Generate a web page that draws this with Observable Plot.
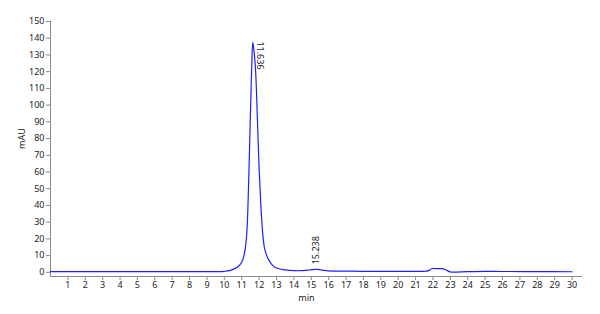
<!DOCTYPE html>
<html>
<head>
<meta charset="utf-8">
<script src="https://cdn.jsdelivr.net/npm/d3@7"></script>
<script src="https://cdn.jsdelivr.net/npm/@observablehq/plot@0.6"></script>
<style>
  html, body { margin: 0; padding: 0; background: #fff; }
  #chart svg { display: block; }
</style>
</head>
<body>
<div id="chart"></div>
<script>
// Retention time (min) and absorbance (mAU)
const times = [0, 2, 5, 8, 9.5, 10, 10.3, 10.6, 10.8, 11.0, 11.1, 11.2, 11.3, 11.4, 11.5, 11.58, 11.636, 11.7, 11.8, 11.9, 12.0, 12.1, 12.2, 12.3, 12.4, 12.5, 12.7, 12.9, 13.2, 13.6, 14.0, 14.5, 14.9, 15.238, 15.6, 16.0, 17, 18, 20, 21.5, 21.75, 21.95, 22.2, 22.5, 22.7, 23.0, 23.2, 24, 25, 26, 28, 30];
const mau   = [0.4, 0.4, 0.4, 0.4, 0.45, 0.6, 1.0, 2.2, 3.5, 6, 9, 14, 25, 55, 95, 125, 137.5, 133, 120, 92, 62, 40, 24, 15, 11, 8.5, 5, 3, 2, 1.3, 1.0, 1.0, 1.4, 1.8, 1.4, 0.9, 0.7, 0.6, 0.6, 0.6, 1.0, 2.3, 2.2, 2.2, 1.7, 0.2, 0.1, 0.4, 0.6, 0.5, 0.4, 0.35];

// Peak annotations
const peakTimes  = [11.636, 15.238];
const peakHeights = [137.5, 1.8];
const peakLabels = ["11.636", "15.238"];

const xTicks = d3.range(1, 31);
const yTicks = d3.range(0, 151, 10);

const trace = times.map((t, i) => ({t, v: mau[i]}));
const peaks = peakTimes.map((t, i) => ({t, v: peakHeights[i], label: peakLabels[i]}));

const axisColor = "#8a8a8a";
const textColor = "#222";

const chart = Plot.plot({
  width: 600,
  height: 314,
  marginLeft: 50,
  marginRight: 18,
  marginTop: 21,
  marginBottom: 38,
  style: {fontFamily: "'Noto Sans', sans-serif", fontSize: "9px", color: textColor, background: "#fff"},
  x: {domain: [0, 30.6]},
  y: {domain: [-2.5, 150]},
  marks: [
    Plot.ruleX([0], {stroke: axisColor}),
    Plot.ruleY([-2.5], {stroke: axisColor}),
    Plot.axisY({ticks: yTicks, tickSize: 4, tickPadding: 2, stroke: axisColor, fill: textColor, label: null}),
    Plot.axisX({ticks: xTicks, tickSize: 4, tickPadding: 1, stroke: axisColor, fill: textColor, label: null}),
    Plot.text(["mAU"], {frameAnchor: "left", rotate: -90, dx: -28, fill: textColor, fontSize: 9}),
    Plot.text(["min"], {frameAnchor: "bottom", lineAnchor: "top", dy: 18, dx: -10, fill: textColor, fontSize: 9}),
    Plot.line(trace, {x: "t", y: "v", stroke: "#2020ff", strokeWidth: 1.2, curve: "catmull-rom"}),
    Plot.text(peaks.filter((d, i) => i === 0), {x: "t", y: "v", text: "label", rotate: 90, textAnchor: "start", lineAnchor: "middle", dx: 7, dy: -1, fill: textColor, fontSize: 9}),
    Plot.text(peaks.filter((d, i) => i === 1), {x: "t", y: "v", text: "label", rotate: -90, textAnchor: "start", lineAnchor: "middle", dx: 1, dy: -5, fill: textColor, fontSize: 9})
  ]
});
document.getElementById("chart").append(chart);
</script>
</body>
</html>
